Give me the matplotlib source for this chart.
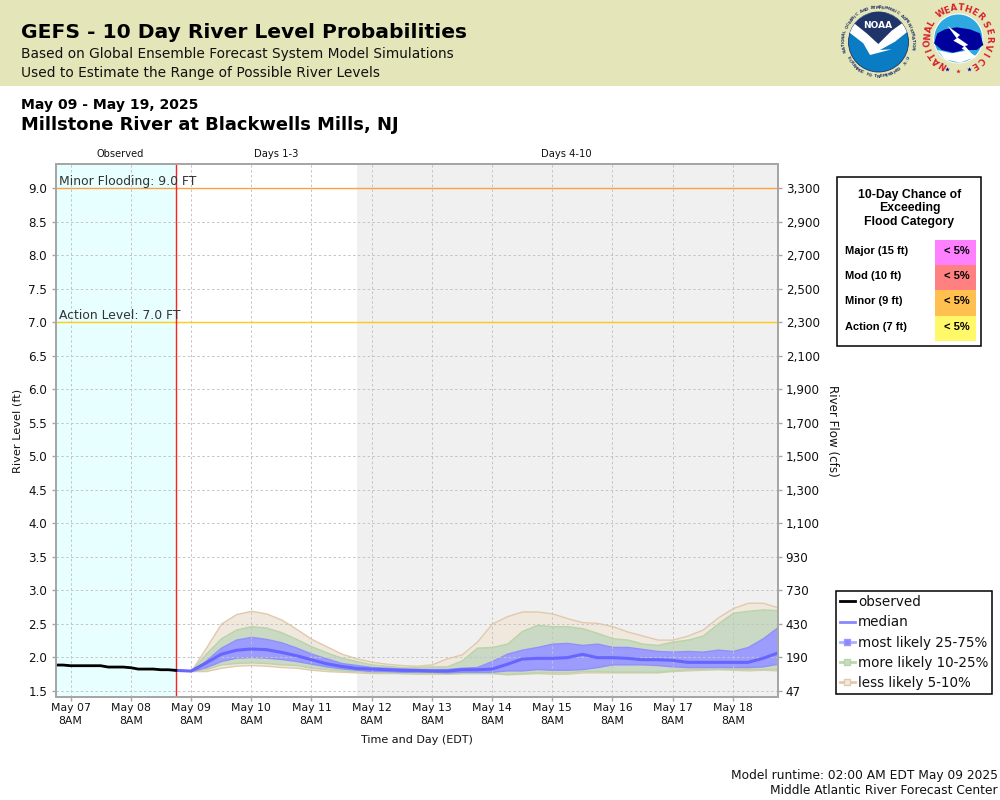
import numpy as np
import pandas as pd
import matplotlib
matplotlib.use('Agg')
import matplotlib.pyplot as plt
from matplotlib.lines import Line2D
from matplotlib.patches import Circle, Polygon, Rectangle

# river level in ft
obs_times = pd.date_range('2025-05-07 02:00', '2025-05-09 02:00', freq='3h')
observed = [1.88, 1.88, 1.87, 1.87, 1.87, 1.87, 1.87, 1.85, 1.85, 1.85, 1.84,
            1.82, 1.82, 1.82, 1.81, 1.81, 1.80]

fcst_times = pd.date_range('2025-05-09 08:00', periods=40, freq='6h')
less_hi = [1.79, 2.14, 2.50, 2.64, 2.69, 2.65, 2.56, 2.42, 2.27, 2.16, 2.05, 1.98, 1.93, 1.90,
           1.88, 1.87, 1.89, 1.98, 2.04, 2.23, 2.50, 2.61, 2.68, 2.68, 2.65, 2.58, 2.52, 2.51,
           2.46, 2.38, 2.32, 2.26, 2.26, 2.32, 2.41, 2.59, 2.73, 2.81, 2.81, 2.74]
more_hi = [1.79, 2.05, 2.28, 2.41, 2.46, 2.44, 2.37, 2.27, 2.16, 2.07, 1.99, 1.94, 1.89, 1.87,
           1.85, 1.85, 1.86, 1.86, 1.95, 2.14, 2.15, 2.20, 2.39, 2.48, 2.46, 2.46, 2.43, 2.36,
           2.28, 2.26, 2.20, 2.18, 2.23, 2.26, 2.32, 2.50, 2.66, 2.69, 2.71, 2.70]
mid_hi = [1.79, 1.95, 2.14, 2.26, 2.30, 2.27, 2.22, 2.14, 2.05, 1.98, 1.91, 1.88, 1.85, 1.84,
          1.83, 1.82, 1.82, 1.82, 1.84, 1.85, 1.94, 2.05, 2.11, 2.15, 2.20, 2.21, 2.18, 2.20,
          2.15, 2.15, 2.12, 2.09, 2.08, 2.09, 2.08, 2.11, 2.09, 2.15, 2.28, 2.45]
median = [1.79, 1.91, 2.04, 2.10, 2.12, 2.11, 2.07, 2.02, 1.96, 1.90, 1.86, 1.83, 1.82, 1.81,
          1.80, 1.80, 1.79, 1.79, 1.81, 1.81, 1.82, 1.89, 1.97, 1.98, 1.98, 1.99, 2.04, 1.99,
          1.99, 1.98, 1.96, 1.96, 1.95, 1.92, 1.92, 1.92, 1.92, 1.92, 1.98, 2.06]
mid_lo = [1.79, 1.85, 1.94, 1.99, 2.00, 1.99, 1.97, 1.94, 1.90, 1.86, 1.83, 1.81, 1.79, 1.79,
          1.78, 1.78, 1.78, 1.77, 1.78, 1.78, 1.78, 1.80, 1.80, 1.82, 1.81, 1.81, 1.82, 1.85,
          1.89, 1.89, 1.89, 1.88, 1.86, 1.85, 1.85, 1.85, 1.85, 1.85, 1.86, 1.90]
more_lo = [1.79, 1.82, 1.89, 1.91, 1.92, 1.91, 1.89, 1.88, 1.84, 1.82, 1.80, 1.79, 1.77, 1.77,
           1.76, 1.76, 1.76, 1.76, 1.76, 1.76, 1.76, 1.75, 1.76, 1.77, 1.77, 1.77, 1.79, 1.79,
           1.78, 1.78, 1.78, 1.78, 1.80, 1.82, 1.82, 1.82, 1.82, 1.82, 1.82, 1.82]
less_lo = [1.79, 1.79, 1.84, 1.87, 1.88, 1.87, 1.85, 1.84, 1.81, 1.79, 1.78, 1.77, 1.76, 1.76,
           1.76, 1.75, 1.75, 1.75, 1.76, 1.76, 1.76, 1.74, 1.75, 1.76, 1.75, 1.75, 1.77, 1.77,
           1.77, 1.77, 1.77, 1.77, 1.79, 1.80, 1.81, 1.82, 1.81, 1.80, 1.81, 1.80]

level_ticks = [1.5, 2.0, 2.5, 3.0, 3.5, 4.0, 4.5, 5.0, 5.5, 6.0, 6.5, 7.0, 7.5, 8.0, 8.5, 9.0]
flow_labels = ['47', '190', '430', '730', '930', '1,100', '1,300', '1,500', '1,700', '1,900',
               '2,100', '2,300', '2,500', '2,700', '2,900', '3,300']
day_ticks = pd.date_range('2025-05-07 08:00', '2025-05-18 08:00', freq='1D')
day_labels = [d.strftime('%b %d') + '\n8AM' for d in day_ticks]

flood_names = ['Major (15 ft)', 'Mod (10 ft)', 'Minor (9 ft)', 'Action (7 ft)']
flood_chance = ['< 5%', '< 5%', '< 5%', '< 5%']
flood_colors = ['#ff80ff', '#ff8080', '#ffc050', '#fff868']

minor_level = 9.0
action_level = 7.0
now = pd.Timestamp('2025-05-09 02:00')
grey_start = pd.Timestamp('2025-05-12 02:00')
grey_end = pd.Timestamp('2025-05-19 02:00')
x_start = pd.Timestamp('2025-05-07 02:00')

GRAY = '#a6a6a6'
TXT = '#111111'

fig = plt.figure(figsize=(10, 8), dpi=100)
ax = fig.add_axes([0.0555, 1 - 697 / 800, 0.7225, 533 / 800])
ax.set_xlim(x_start, grey_end)
ax.set_ylim(1.403, 9.359)

ax.axvspan(x_start, now, color='#e8ffff', lw=0, zorder=0)
ax.axvspan(grey_start, grey_end, color='#f0f0f0', lw=0, zorder=0)

ax.fill_between(fcst_times, less_lo, less_hi, color='#f0e8dc', ec='#e2c9ae', lw=1, zorder=1.2)
ax.fill_between(fcst_times, more_lo, more_hi, color='#c9d9c3', ec='#b9d4a8', lw=1, zorder=1.3)
ax.fill_between(fcst_times, mid_lo, mid_hi, color='#9c9cff', ec='#9090f8', lw=1, zorder=1.4)
ax.set_axisbelow(False)
ax.grid(True, color='#c4c4c4', ls='--', lw=0.7, dashes=(2.5, 2.5))

ax.axhline(minor_level, color='#ffa040', lw=1, zorder=3)
ax.axhline(action_level, color='#ffcc10', lw=1, zorder=3)
ax.axvline(now, color='#ff2020', lw=1, zorder=3)
ax.plot([now] + list(fcst_times), [observed[-1]] + median, color='#6666ff', lw=2.2, zorder=4)
ax.plot(obs_times, observed, color='black', lw=2, zorder=5)

ax.text(x_start + pd.Timedelta(hours=1.5), minor_level, 'Minor Flooding: 9.0 FT',
        fontsize=8.9, color='#333333', va='bottom', zorder=6)
ax.text(x_start + pd.Timedelta(hours=1.5), action_level, 'Action Level: 7.0 FT',
        fontsize=8.9, color='#333333', va='bottom', zorder=6)

ax.set_xticks(day_ticks)
ax.set_xticklabels(day_labels, fontsize=7.8, color=TXT, linespacing=1.3)
ax.set_yticks(level_ticks)
ax.set_yticklabels(['%.1f' % v for v in level_ticks], fontsize=8.6, color=TXT)
ax.tick_params(axis='both', color=GRAY, length=3, width=1, pad=3)
ax.tick_params(axis='x', pad=1.5)
ax.set_ylabel('River Level (ft)', fontsize=8.2, color=TXT)

ax2 = ax.twinx()
ax2.set_ylim(ax.get_ylim())
ax2.set_yticks(level_ticks)
ax2.set_yticklabels(flow_labels, fontsize=8.6, color=TXT)
ax2.tick_params(axis='y', color=GRAY, length=3, width=1, pad=2.5)

for a in (ax, ax2):
    for s in a.spines.values():
        s.set_color(GRAY)
        s.set_linewidth(1.3)

# pixel space overlay for the header, logos and side boxes
ov = fig.add_axes([0, 0, 1, 1], zorder=-1)
ov.set_xlim(0, 1000)
ov.set_ylim(800, 0)
ov.axis('off')
top = fig.add_axes([0, 0, 1, 1], zorder=10)
top.set_xlim(0, 1000)
top.set_ylim(800, 0)
top.axis('off')
top.patch.set_alpha(0)

ov.add_patch(Rectangle((0, 0), 1000, 85.5, color='#e4e5b8', lw=0))
top.text(21, 33, 'GEFS - 10 Day River Level Probabilities', fontsize=14.6, weight='bold',
         color='black', va='center')
top.text(21, 54, 'Based on Global Ensemble Forecast System Model Simulations', fontsize=9.95,
         color='#111111', va='center')
top.text(21, 73, 'Used to Estimate the Range of Possible River Levels', fontsize=9.95,
         color='#111111', va='center')
top.text(21, 105, 'May 09 - May 19, 2025', fontsize=10.05, weight='bold', color='black', va='center')
top.text(21, 125.5, 'Millstone River at Blackwells Mills, NJ', fontsize=12.85, weight='bold',
         color='black', va='center')

top.text(120, 154, 'Observed', fontsize=7.1, color=TXT, ha='center', va='center')
top.text(276.5, 154, 'Days 1-3', fontsize=7.2, color=TXT, ha='center', va='center')
top.text(566, 154, 'Days 4-10', fontsize=7.2, color=TXT, ha='center', va='center')
top.text(832, 431, 'River Flow (cfs)', fontsize=8.6, color=TXT, rotation=270, ha='center', va='center')
top.text(417, 740, 'Time and Day (EDT)', fontsize=8.0, color=TXT, ha='center', va='center')
top.text(998, 775, 'Model runtime: 02:00 AM EDT May 09 2025', fontsize=8.8, color=TXT, ha='right', va='center')
top.text(998, 791, 'Middle Atlantic River Forecast Center', fontsize=8.8, color=TXT, ha='right', va='center')

# chance of exceeding box
top.add_patch(Rectangle((836.5, 176.5), 144, 169, fc='white', ec='black', lw=1.1))
for y, line in zip([195, 208.5, 222], ['10-Day Chance of', 'Exceeding', 'Flood Category']):
    top.text(909.5, y, line, family='Liberation Sans', weight='bold', fontsize=8.8, color='black',
             ha='center', va='center')
row_h = 25.2
for i, (name, chance, col) in enumerate(zip(flood_names, flood_chance, flood_colors)):
    y0 = 240 + i * row_h
    top.add_patch(Rectangle((935, y0), 41, row_h, color=col, lw=0))
    top.text(845, y0 + row_h / 2 - 1.5, name, family='Liberation Sans', weight='bold', fontsize=8.0,
             color='black', va='center')
    top.text(957, y0 + row_h / 2 - 1.5, chance, family='Liberation Sans', weight='bold', fontsize=8.0,
             color='black', ha='center', va='center')

# legend
handles = [
    Line2D([], [], color='black', lw=2),
    Line2D([], [], color='#8888ff', lw=2),
    Line2D([], [], color='#b0b0ff', lw=2, marker='s', ms=5, mfc='#8888ff', mec='#9999ff'),
    Line2D([], [], color='#bcd8a8', lw=2, marker='s', ms=5, mfc='#c9d9c3', mec='#b9d4a8'),
    Line2D([], [], color='#e2c9ae', lw=2, marker='s', ms=5, mfc='#f0e8dc', mec='#e2c9ae'),
]
leg = fig.legend(handles, ['observed', 'median', 'most likely 25-75%', 'more likely 10-25%',
                           'less likely 5-10%'],
                 loc='upper left', bbox_to_anchor=(835.5 / 1000, 1 - 591 / 800), borderaxespad=0,
                 fontsize=9.75, frameon=True, fancybox=False, framealpha=1, edgecolor='black',
                 handlelength=1.15, handletextpad=0.2, labelspacing=0.46, borderpad=0.3,
                 labelcolor=TXT)
leg.get_frame().set_linewidth(1.1)
leg.set_zorder(20)


def zp(pts, x0=820):
    return [(x0 + x / 3, y / 3) for x, y in pts]


def ring_text(txt, cx, cy, r, a0, a1, size, color, inside=False):
    # angles in degrees, clockwise from the top
    for ch, a in zip(txt, np.linspace(a0, a1, len(txt))):
        t = np.radians(a)
        rot = -a + (180 if inside else 0)
        top.text(cx + r * np.sin(t), cy - r * np.cos(t), ch, fontsize=size, color=color, weight='bold',
                 rotation=rot, rotation_mode='anchor', ha='center', va='center')


# NOAA logo
cx, cy = 878.5, 42
disc = Circle((cx, cy), 30, fc='#0a7cc4', ec='#1f3468', lw=0.6)
top.add_patch(disc)
white = Polygon(zp([(80, 40), (275, 40), (275, 85), (225, 125), (180, 150), (215, 148), (150, 165),
                    (130, 130), (85, 95)]), fc='white', ec='none')
top.add_patch(white)
white.set_clip_path(disc)
navy = Polygon(zp([(90, 20), (265, 20), (260, 60), (215, 92), (175, 132), (140, 100), (100, 68)]),
               fc='#1f3468', ec='none')
top.add_patch(navy)
navy.set_clip_path(disc)
top.text(878, 26, 'NOAA', fontsize=6.5, weight='bold', color='white', ha='center', va='center')
ring_text('NATIONAL OCEANIC AND ATMOSPHERIC ADMINISTRATION', cx, cy, 34.5, -104, 100, 3, '#2a3a6a')
ring_text('U.S. DEPARTMENT OF COMMERCE', cx, cy, 34.5, 118, 242, 3, '#2a3a6a', inside=True)

# NWS logo
cx, cy = 958.3, 38.5
top.add_patch(Circle((cx, cy), 25, fc='white', ec='none'))
sky = Circle((cx, cy), 24, fc='#2da8e0', ec='none')
top.add_patch(sky)
blob = Polygon(zp([(342, 130), (352, 100), (375, 88), (410, 82), (450, 88), (480, 100), (490, 135),
                   (470, 150), (430, 150), (400, 158), (365, 150)]), fc='#00009c', ec='none')
top.add_patch(blob)
cloud = Polygon(zp([(352, 150), (395, 160), (440, 152), (470, 170), (420, 188), (375, 178)]),
                fc='white', ec='none')
top.add_patch(cloud)
top.add_patch(Polygon(zp([(383, 78), (420, 105), (412, 112), (445, 135), (435, 138), (470, 178),
                          (425, 145), (432, 140), (400, 122), (410, 115)]), fc='white', ec='none'))
ring_text('NATIONAL', cx, cy, 30.5, -149, -60, 6.2, '#d8202a')
ring_text('WEATHER', cx, cy, 30.5, -35, 45, 6.2, '#d8202a')
ring_text('SERVICE', cx, cy, 30.5, 62, 148, 6.2, '#d8202a')
for ang, col in zip([160, 180, 200], ['#00009c', '#d8202a', '#00009c']):
    t = np.radians(ang)
    top.plot(cx + 32 * np.sin(t), cy - 32 * np.cos(t), marker='*', ms=3.5, color=col, mew=0)

fig.savefig('out.png', dpi=100, facecolor='white')
